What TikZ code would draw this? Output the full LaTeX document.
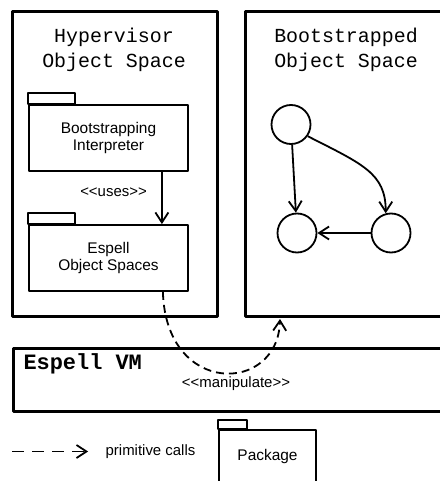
\documentclass[tikz,border=0pt]{standalone}
\usepackage{fontspec}
\newfontfamily\helv{Liberation Sans}
\newfontfamily\courier{Liberation Mono}
\usetikzlibrary{arrows.meta}

\begin{document}
\begin{tikzpicture}[x=1bp,y=-1bp,line join=round,
  bigbox/.style={draw,line width=3bp,inner sep=0pt},
  package/.style={draw,line width=1.8bp,minimum width=159bp,minimum height=66bp,
    inner sep=0pt,align=center,font=\helv\fontsize{15.5}{18}\selectfont},
  title/.style={align=center,font=\courier\fontsize{20}{25}\selectfont},
  stereo/.style={font=\helv\fontsize{15}{18}\selectfont},
  obj/.style={draw,circle,line width=1.8bp,minimum size=39bp,inner sep=0pt},
  link/.style={line width=1.8bp,-{Straight Barb[length=10bp,width=13bp]}},
  call/.style={link,dash pattern=on 8bp off 5bp}]
  \useasboundingbox (0,0) rectangle (440,481);

  % 三个大框
  \node[bigbox,minimum width=204bp,minimum height=304bp] (hyper) at (115,164) {};
  \node[bigbox,minimum width=210bp,minimum height=304bp] (boot) at (350,164) {};
  \node[bigbox,minimum width=445bp,minimum height=63bp] (vm) at (236,379.5) {};

  % 标题
  \node[title] (hypertitle) at (114,50) {Hypervisor\\Object Space};
  \node[title] (boottitle) at (346,50) {Bootstrapped\\Object Space};
  \node[font=\courier\bfseries\fontsize{22}{26}\selectfont,anchor=west] (vmtitle) at (20,364) {Espell VM};

  % 包
  \node[package] (interp) at (108.5,138) {Bootstrapping\\Interpreter};
  \node[package] (spaces) at (108.5,258) {Espell\\Object Spaces};
  \node[package,minimum width=97bp,minimum height=54bp] (pkg) at (267.5,457) {Package};
  \foreach \p/\w/\h in {interp/47/11,spaces/47/11,pkg/29/9}
    \draw[line width=1.8bp] (\p.north west) rectangle ++(\w,-\h);

  \draw[link] ([xshift=-27bp]interp.south east) -- ([xshift=-27bp]spaces.north east);
  \node[stereo] (uses) at (113.5,192) {<<uses>>};

  % 对象
  \node[obj] (o1) at (291,124.5) {};
  \node[obj] (o2) at (297,233) {};
  \node[obj] (o3) at (391,233) {};
  \draw[link] (o1) -- (o2);
  \draw[link] (o1.-35) .. controls +(55,28) and +(0,-40) .. (o3.105);
  \draw[link] (o3) -- (o2);

  % 虚线调用
  \draw[call] ([xshift=-26bp]spaces.south east) .. controls +(3,105) and +(-2,75) .. ([xshift=-70bp,yshift=-1.5bp]boot.south);
  \node[stereo] (manip) at (236,384) {<<manipulate>>};

  % 图例
  \coordinate (legend) at (12,451.5);
  \node[stereo] (prim) at (150.5,451.5) {primitive calls};
  \draw[link,dash pattern=on 12bp off 8bp] (legend) -- ([xshift=-14bp]prim.west);
\end{tikzpicture}
\end{document}
